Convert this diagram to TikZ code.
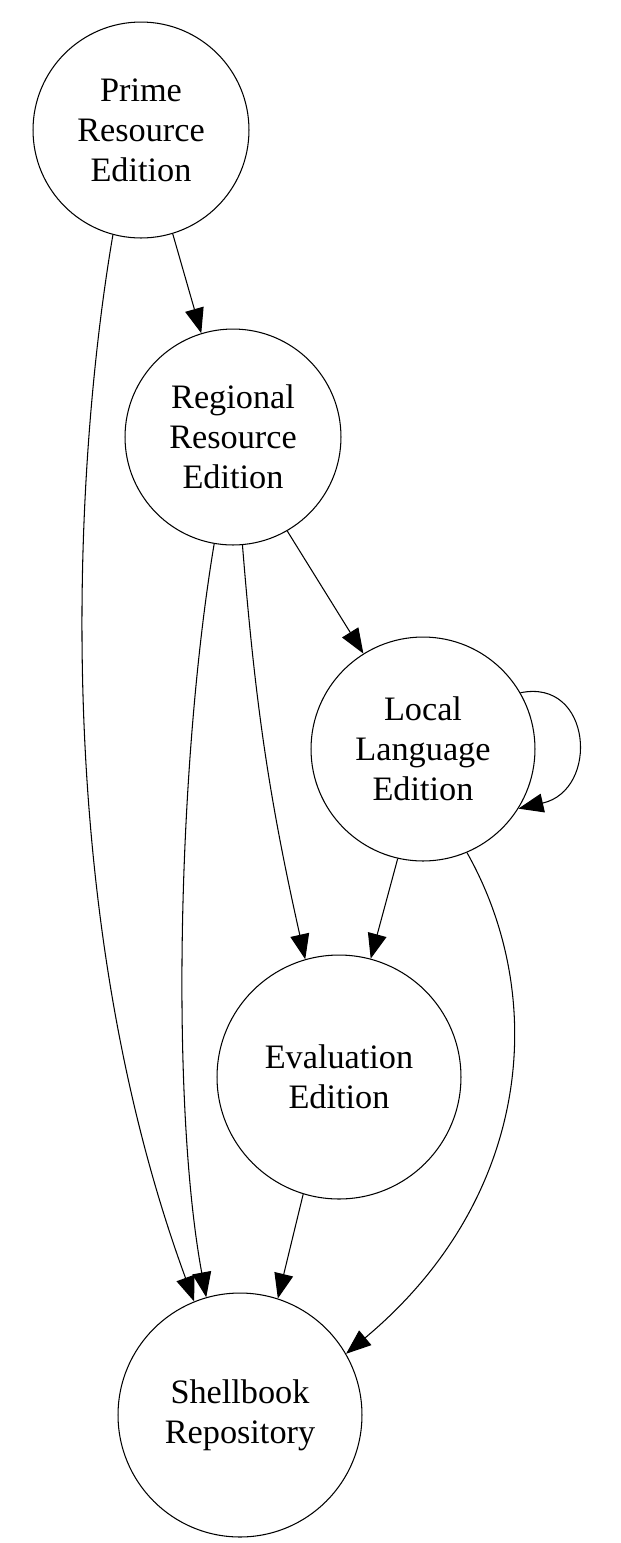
\documentclass[tikz,border=0pt]{standalone}
\usepackage{fontspec}
\setmainfont{Liberation Serif}
\usetikzlibrary{arrows.meta}

\begin{document}
\begin{tikzpicture}[x=0.02cm, y=-0.02cm,
        edition/.style={draw, circle, line width=0.6pt, inner sep=0pt, align=center,
            font=\fontsize{19.5}{22.8}\selectfont},
        feed/.style={line width=0.6pt, -{Triangle[length=0.5cm, width=0.38cm]}}]
        \useasboundingbox (0,0) rectangle (621,1543);

        \node[edition, minimum size=4.32cm] (prime) at (141,130) {Prime\\Resource\\Edition};
        \node[edition, minimum size=4.32cm] (regional) at (233,437) {Regional\\Resource\\Edition};
        \node[edition, minimum size=4.48cm] (local) at (423,749) {Local\\Language\\Edition};
        \node[edition, minimum size=4.88cm] (eval) at (339,1077) {Evaluation\\Edition};
        \node[edition, minimum size=4.88cm] (shell) at (240,1415) {Shellbook\\Repository};

        \draw[feed] (prime.287) -- (regional.107);
        \draw[feed] (prime.255) .. controls (75,456) and (47,900) .. (shell.112);

        \draw[feed] (regional.300) -- (local.122);
        \draw[feed] (regional.260) .. controls (178,760) and (170,1100) .. (shell.106);
        \draw[feed] (regional.275) to[bend right=4] (eval.106);

        \draw[feed] (local.30) .. controls (592,678) and (600,790) .. (local.-32);
        \draw[feed] (local.257) -- (eval.75);
        \draw[feed] (local.293) .. controls (550,1000) and (530,1200) .. (shell.30);

        \draw[feed] (eval.253) -- (shell.72);

    \end{tikzpicture}
\end{document}
